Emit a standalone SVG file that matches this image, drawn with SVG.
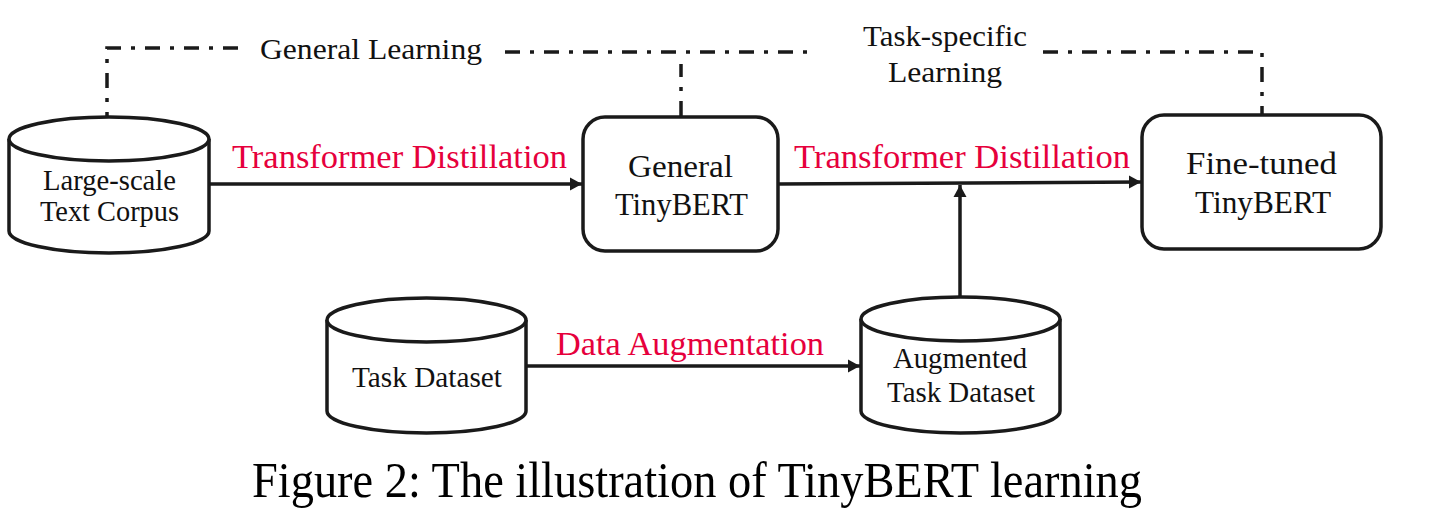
<svg xmlns="http://www.w3.org/2000/svg" width="1454" height="514" viewBox="0 0 1454 514">
  <style>
    .shape { fill: #ffffff; stroke: #1a1a1a; stroke-width: 3.5; }
    .edge { fill: none; stroke: #1a1a1a; stroke-width: 3.5; }
    .dash { fill: none; stroke: #1a1a1a; stroke-width: 3.5; stroke-dasharray: 15 10 4 10; }
    .lbl { font-family: "Liberation Serif", "Times New Roman", serif; font-size: 30px; fill: #111111; }
    .box { font-family: "Liberation Serif", "Times New Roman", serif; font-size: 32px; fill: #111111; }
    .top { font-family: "Liberation Serif", "Times New Roman", serif; font-size: 30px; fill: #111111; }
    .red { font-family: "Liberation Serif", "Times New Roman", serif; font-size: 34px; fill: #e6003c; }
    .cap { font-family: "Liberation Serif", "Times New Roman", serif; font-size: 50px; fill: #000000; }
  </style>
  <defs>
    <marker id="arrow" markerUnits="userSpaceOnUse" markerWidth="13" markerHeight="14" refX="12" refY="7" orient="auto">
      <path d="M0,0.5 L12,7 L0,13.5 z" fill="#1a1a1a"/>
    </marker>
  </defs>
  <rect width="1454" height="514" fill="#ffffff"/>

  <g id="connectors">
    <path class="dash" d="M238,48 H107 V118"/>
    <path class="dash" d="M505,52 H813"/>
    <path class="dash" d="M681,116 V64"/>
    <path class="dash" d="M1043,52 H1262 V115"/>
    <text class="top" x="260" y="59" textLength="222" lengthAdjust="spacingAndGlyphs">General Learning</text>
    <text class="top" x="863" y="46" textLength="164" lengthAdjust="spacingAndGlyphs">Task-specific</text>
    <text class="top" x="888" y="82" textLength="114" lengthAdjust="spacingAndGlyphs">Learning</text>

    <path class="edge" d="M209,184 H582" marker-end="url(#arrow)"/>
    <text class="red" x="232" y="168" textLength="335" lengthAdjust="spacingAndGlyphs">Transformer Distillation</text>

    <path class="edge" d="M778,184 L1141,182" marker-end="url(#arrow)"/>
    <text class="red" x="794" y="168" textLength="336" lengthAdjust="spacingAndGlyphs">Transformer Distillation</text>

    <path class="edge" d="M960,297 V185" marker-end="url(#arrow)"/>

    <path class="edge" d="M526,366 H860" marker-end="url(#arrow)"/>
    <text class="red" x="556" y="355" textLength="268" lengthAdjust="spacingAndGlyphs">Data Augmentation</text>
  </g>

  <g id="node-corpus">
    <path class="shape" d="M9,139 V231 A100,22 0 0 0 209,231 V139 A100,22 0 0 0 9,139 Z"/>
    <path class="shape" d="M9,139 A100,22 0 0 0 209,139" fill="none"/>
    <text class="lbl" x="43" y="190" textLength="133" lengthAdjust="spacingAndGlyphs">Large-scale</text>
    <text class="lbl" x="40" y="221" textLength="139" lengthAdjust="spacingAndGlyphs">Text Corpus</text>
  </g>

  <g id="node-general">
    <rect class="shape" x="583" y="117" width="195" height="134" rx="22"/>
    <text class="box" x="628" y="177" textLength="105" lengthAdjust="spacingAndGlyphs">General</text>
    <text class="box" x="615" y="215" textLength="133" lengthAdjust="spacingAndGlyphs">TinyBERT</text>
  </g>

  <g id="node-finetuned">
    <rect class="shape" x="1142" y="115" width="239" height="134" rx="22"/>
    <text class="box" x="1186" y="174" textLength="151" lengthAdjust="spacingAndGlyphs">Fine-tuned</text>
    <text class="box" x="1195" y="213" textLength="136" lengthAdjust="spacingAndGlyphs">TinyBERT</text>
  </g>

  <g id="node-task">
    <path class="shape" d="M327,320 V411 A99.5,22 0 0 0 526,411 V320 A99.5,22 0 0 0 327,320 Z"/>
    <path class="shape" d="M327,320 A99.5,22 0 0 0 526,320" fill="none"/>
    <text class="lbl" x="352" y="387" textLength="150" lengthAdjust="spacingAndGlyphs">Task Dataset</text>
  </g>

  <g id="node-augmented">
    <path class="shape" d="M861,319 V411 A99.5,22 0 0 0 1060,411 V319 A99.5,22 0 0 0 861,319 Z"/>
    <path class="shape" d="M861,319 A99.5,22 0 0 0 1060,319" fill="none"/>
    <text class="lbl" x="893" y="368" textLength="134" lengthAdjust="spacingAndGlyphs">Augmented</text>
    <text class="lbl" x="887" y="402" textLength="148" lengthAdjust="spacingAndGlyphs">Task Dataset</text>
  </g>

  <text class="cap" x="252" y="497" textLength="890" lengthAdjust="spacingAndGlyphs">Figure 2: The illustration of TinyBERT learning</text>
</svg>
